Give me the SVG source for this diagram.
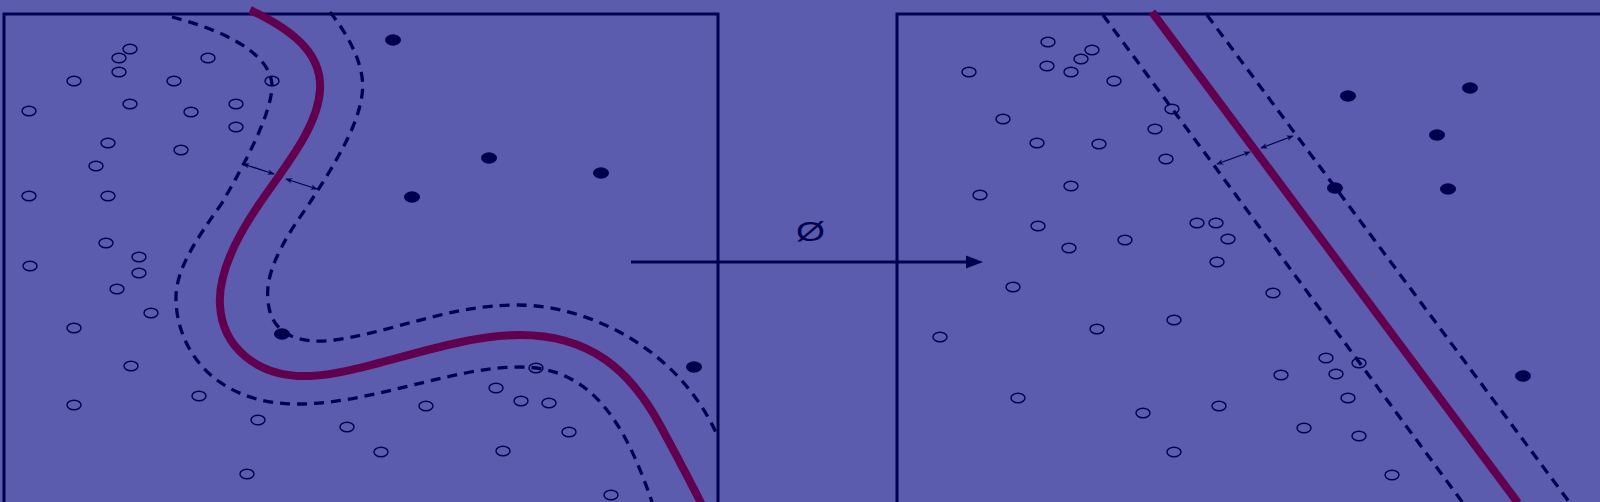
<svg xmlns="http://www.w3.org/2000/svg" width="1600" height="502" viewBox="0 0 1600 502">
<style>
.bg{fill:#5b5cad}
.frame{fill:none;stroke:#00004f;stroke-width:3}
.o{fill:none;stroke:#00004f;stroke-width:1.4}
.f{fill:#00004f}
.sep{fill:none;stroke:#620050;stroke-width:8;stroke-linecap:butt}
.dash{fill:none;stroke:#00004f;stroke-width:3.3;stroke-dasharray:10 7}
.marg{fill:none;stroke:#00004f;stroke-width:1.3;marker-start:url(#ah);marker-end:url(#ah)}
.lbl{font-family:"Liberation Sans",Arial,sans-serif;font-size:28px;fill:#00004f}
</style>
<defs>
<marker id="ah" viewBox="0 0 10 10" refX="9" refY="5" markerWidth="7" markerHeight="7" markerUnits="userSpaceOnUse" orient="auto-start-reverse">
<path d="M0,1 L10,5 L0,9 L3,5 Z" fill="#00004f"/>
</marker>
</defs>
<rect class="bg" x="0" y="0" width="1600" height="502"/>

<g id="left-panel">
<path class="frame" d="M4,503 V14 H718 V503"/>
<g id="left-hollow">
<ellipse class="o" cx="130" cy="49" rx="7" ry="4.8"/>
<ellipse class="o" cx="119" cy="58" rx="7" ry="4.8"/>
<ellipse class="o" cx="208" cy="58" rx="7" ry="4.8"/>
<ellipse class="o" cx="119" cy="72" rx="7" ry="4.8"/>
<ellipse class="o" cx="74" cy="81" rx="7" ry="4.8"/>
<ellipse class="o" cx="174" cy="81" rx="7" ry="4.8"/>
<ellipse class="o" cx="272" cy="81" rx="7" ry="4.8"/>
<ellipse class="o" cx="130" cy="104" rx="7" ry="4.8"/>
<ellipse class="o" cx="29" cy="111" rx="7" ry="4.8"/>
<ellipse class="o" cx="191" cy="112" rx="7" ry="4.8"/>
<ellipse class="o" cx="236" cy="104" rx="7" ry="4.8"/>
<ellipse class="o" cx="236" cy="127" rx="7" ry="4.8"/>
<ellipse class="o" cx="108" cy="143" rx="7" ry="4.8"/>
<ellipse class="o" cx="181" cy="150" rx="7" ry="4.8"/>
<ellipse class="o" cx="96" cy="166" rx="7" ry="4.8"/>
<ellipse class="o" cx="29" cy="196" rx="7" ry="4.8"/>
<ellipse class="o" cx="108" cy="196" rx="7" ry="4.8"/>
<ellipse class="o" cx="106" cy="243" rx="7" ry="4.8"/>
<ellipse class="o" cx="30" cy="266" rx="7" ry="4.8"/>
<ellipse class="o" cx="139" cy="257" rx="7" ry="4.8"/>
<ellipse class="o" cx="139" cy="273" rx="7" ry="4.8"/>
<ellipse class="o" cx="117" cy="289" rx="7" ry="4.8"/>
<ellipse class="o" cx="151" cy="313" rx="7" ry="4.8"/>
<ellipse class="o" cx="74" cy="328" rx="7" ry="4.8"/>
<ellipse class="o" cx="131" cy="366" rx="7" ry="4.8"/>
<ellipse class="o" cx="199" cy="396" rx="7" ry="4.8"/>
<ellipse class="o" cx="74" cy="405" rx="7" ry="4.8"/>
<ellipse class="o" cx="258" cy="420" rx="7" ry="4.8"/>
<ellipse class="o" cx="347" cy="427" rx="7" ry="4.8"/>
<ellipse class="o" cx="381" cy="452" rx="7" ry="4.8"/>
<ellipse class="o" cx="247" cy="474" rx="7" ry="4.8"/>
<ellipse class="o" cx="536" cy="368" rx="7" ry="4.8"/>
<ellipse class="o" cx="496" cy="388" rx="7" ry="4.8"/>
<ellipse class="o" cx="521" cy="401" rx="7" ry="4.8"/>
<ellipse class="o" cx="549" cy="403" rx="7" ry="4.8"/>
<ellipse class="o" cx="426" cy="406" rx="7" ry="4.8"/>
<ellipse class="o" cx="569" cy="432" rx="7" ry="4.8"/>
<ellipse class="o" cx="503" cy="451" rx="7" ry="4.8"/>
<ellipse class="o" cx="611" cy="495" rx="7" ry="4.8"/>
</g>
<g id="left-filled">
<ellipse class="f" cx="393" cy="40" rx="8" ry="5.8"/>
<ellipse class="f" cx="489" cy="158" rx="8" ry="5.8"/>
<ellipse class="f" cx="601" cy="173" rx="8" ry="5.8"/>
<ellipse class="f" cx="412" cy="197" rx="8" ry="5.8"/>
<ellipse class="f" cx="282" cy="334" rx="8" ry="5.8"/>
<ellipse class="f" cx="694" cy="367" rx="8" ry="5.8"/>
</g>
<g id="left-boundaries">
<path class="dash" d="M172,17 C215,28 270,50 272,85 C272,112 248,158 222,203 C196,240 175,270 176,300 C177,350 215,403 295,404 C370,405 450,367 520,367 C590,367 625,420 654,508"/>
<path class="dash" d="M330,12 C352,40 366,70 362,95 C358,125 338,160 305,210 C280,245 265,275 268,300 C270,335 300,345 335,340 C400,330 450,305 517,305 C590,305 680,350 718,437"/>
<path class="sep" d="M250,10 C300,33 322,58 320,90 C318,125 290,160 262,200 C234,240 218,275 220,305 C222,345 255,378 310,376 C365,374 450,335 520,335 C590,335 630,370 660,425 C680,462 692,485 702,505"/>
</g>
<g id="left-margins">
<line class="marg" x1="243" y1="164" x2="274" y2="174"/>
<line class="marg" x1="286" y1="179" x2="317" y2="189"/>
</g>
</g>

<g id="mapping">
<line x1="631" y1="262" x2="968" y2="262" stroke="#00004f" stroke-width="3"/>
<polygon points="966,255.5 983,262 966,268.5" fill="#00004f"/>
<text class="lbl" x="796" y="241" textLength="29" lengthAdjust="spacingAndGlyphs">Ø</text>
</g>

<g id="right-panel">
<path class="frame" d="M897,503 V14 H1602"/>
<g id="right-hollow">
<ellipse class="o" cx="1048" cy="42" rx="7" ry="4.8"/>
<ellipse class="o" cx="1092" cy="50" rx="7" ry="4.8"/>
<ellipse class="o" cx="1081" cy="59" rx="7" ry="4.8"/>
<ellipse class="o" cx="1047" cy="66" rx="7" ry="4.8"/>
<ellipse class="o" cx="1071" cy="72" rx="7" ry="4.8"/>
<ellipse class="o" cx="969" cy="72" rx="7" ry="4.8"/>
<ellipse class="o" cx="1114" cy="81" rx="7" ry="4.8"/>
<ellipse class="o" cx="1172" cy="109" rx="7" ry="4.8"/>
<ellipse class="o" cx="1003" cy="119" rx="7" ry="4.8"/>
<ellipse class="o" cx="1155" cy="129" rx="7" ry="4.8"/>
<ellipse class="o" cx="1037" cy="143" rx="7" ry="4.8"/>
<ellipse class="o" cx="1099" cy="144" rx="7" ry="4.8"/>
<ellipse class="o" cx="1166" cy="159" rx="7" ry="4.8"/>
<ellipse class="o" cx="1071" cy="186" rx="7" ry="4.8"/>
<ellipse class="o" cx="980" cy="195" rx="7" ry="4.8"/>
<ellipse class="o" cx="1197" cy="223" rx="7" ry="4.8"/>
<ellipse class="o" cx="1216" cy="223" rx="7" ry="4.8"/>
<ellipse class="o" cx="1038" cy="226" rx="7" ry="4.8"/>
<ellipse class="o" cx="1228" cy="239" rx="7" ry="4.8"/>
<ellipse class="o" cx="1125" cy="240" rx="7" ry="4.8"/>
<ellipse class="o" cx="1069" cy="248" rx="7" ry="4.8"/>
<ellipse class="o" cx="1217" cy="262" rx="7" ry="4.8"/>
<ellipse class="o" cx="1013" cy="287" rx="7" ry="4.8"/>
<ellipse class="o" cx="940" cy="337" rx="7" ry="4.8"/>
<ellipse class="o" cx="1097" cy="329" rx="7" ry="4.8"/>
<ellipse class="o" cx="1174" cy="320" rx="7" ry="4.8"/>
<ellipse class="o" cx="1018" cy="398" rx="7" ry="4.8"/>
<ellipse class="o" cx="1143" cy="413" rx="7" ry="4.8"/>
<ellipse class="o" cx="1219" cy="406" rx="7" ry="4.8"/>
<ellipse class="o" cx="1174" cy="452" rx="7" ry="4.8"/>
<ellipse class="o" cx="1273" cy="293" rx="7" ry="4.8"/>
<ellipse class="o" cx="1326" cy="358" rx="7" ry="4.8"/>
<ellipse class="o" cx="1359" cy="363" rx="7" ry="4.8"/>
<ellipse class="o" cx="1281" cy="375" rx="7" ry="4.8"/>
<ellipse class="o" cx="1336" cy="374" rx="7" ry="4.8"/>
<ellipse class="o" cx="1348" cy="398" rx="7" ry="4.8"/>
<ellipse class="o" cx="1304" cy="428" rx="7" ry="4.8"/>
<ellipse class="o" cx="1359" cy="436" rx="7" ry="4.8"/>
<ellipse class="o" cx="1392" cy="475" rx="7" ry="4.8"/>
</g>
<g id="right-filled">
<ellipse class="f" cx="1348" cy="96" rx="8" ry="5.8"/>
<ellipse class="f" cx="1470" cy="88" rx="8" ry="5.8"/>
<ellipse class="f" cx="1437" cy="135" rx="8" ry="5.8"/>
<ellipse class="f" cx="1335" cy="188" rx="8" ry="5.8"/>
<ellipse class="f" cx="1448" cy="189" rx="8" ry="5.8"/>
<ellipse class="f" cx="1523" cy="376" rx="8" ry="5.8"/>
</g>
<g id="right-boundaries">
<line class="dash" x1="1103" y1="15" x2="1463" y2="503"/>
<line class="dash" x1="1207" y1="15" x2="1570" y2="503"/>
<line class="sep" x1="1152" y1="12" x2="1518" y2="503"/>
</g>
<g id="right-margins">
<line class="marg" x1="1217" y1="164" x2="1250" y2="152"/>
<line class="marg" x1="1261" y1="148" x2="1293" y2="136"/>
</g>
</g>
</svg>
